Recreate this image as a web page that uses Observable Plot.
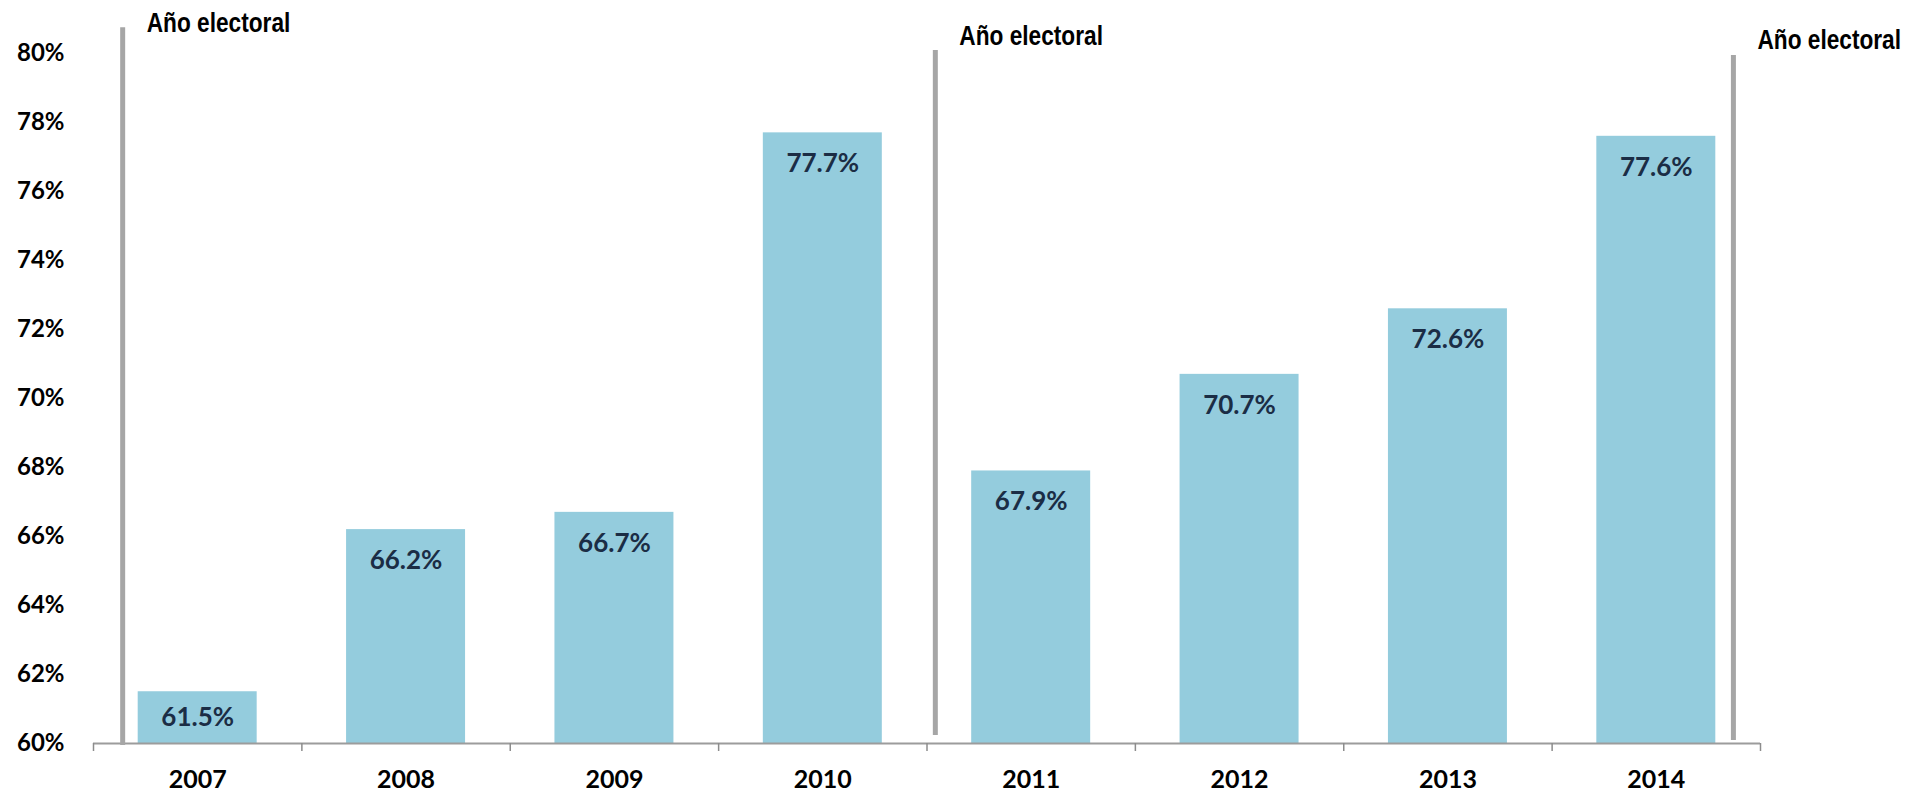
<!DOCTYPE html>
<html>
<head>
<meta charset="utf-8">
<script src="https://cdn.jsdelivr.net/npm/d3@7"></script>
<script src="https://cdn.jsdelivr.net/npm/@observablehq/plot@0.6"></script>
<style>
  html, body { margin: 0; padding: 0; background: #fff; }
  #chart svg { display: block; }
</style>
</head>
<body>
<div id="chart"></div>
<script>
// ---- data ----
const years = [2007, 2008, 2009, 2010, 2011, 2012, 2013, 2014];
const values = [61.5, 66.2, 66.7, 77.7, 67.9, 70.7, 72.6, 77.6];
const yTicks = [60, 62, 64, 66, 68, 70, 72, 74, 76, 78, 80];
const electionLabel = "Año electoral";
const electionX = [2006.64, 2010.54, 2014.37];
const electionTop = [80.75, 80.09, 79.94];
const electionBottom = [59.94, 60.23, 60.09];
const electionLabelY = [80.88, 80.5, 80.39];

// ---- derived tables ----
const baseline = 60;
const bars = years.map((year, i) => ({year, value: values[i]}));
const elections = electionX.map((x, i) => ({x, y1: electionBottom[i], y2: electionTop[i], ly: electionLabelY[i]}));
const halfBar = 0.2855;
const labelInset = 0.9; // in data units below the bar top (inside-end label)
const labelY = d => Math.max(d.value - labelInset, (d.value + baseline) / 2);
const boundaries = d3.range(years.length + 1).map(i => years[0] - 0.5 + i);

const chart = Plot.plot({
  width: 1926,
  height: 794,
  marginLeft: 93,
  marginRight: 166,
  marginTop: 53,
  marginBottom: 51,
  style: {fontFamily: "Lato, 'Open Sans', sans-serif", background: "#fff", color: "#000"},
  x: {domain: [years[0] - 0.5, years[years.length - 1] + 0.5]},
  y: {domain: [baseline, 80]},
  marks: [
    Plot.rectY(bars, {x1: d => d.year - halfBar, x2: d => d.year + halfBar, y1: baseline, y2: "value", fill: "#94ccdd"}),
    Plot.ruleY([baseline], {stroke: "#9c9c9c", strokeWidth: 2}),
    Plot.axisX({ticks: boundaries, tickSize: 8, tickFormat: () => "", stroke: "#8c8c8c", strokeWidth: 1.5, label: null}),
    Plot.axisX({ticks: years, tickSize: 0, tickPadding: 27, tickFormat: d => String(d), fontSize: 25, fontWeight: "bold", fill: "#000", label: null}),
    Plot.axisY({ticks: yTicks, tickSize: 0, tickPadding: 29, tickFormat: d => d + "%", fontSize: 24, fontWeight: "bold", fill: "#000", label: null}),
    Plot.text(bars, {x: "year", y: labelY, text: d => d.value.toFixed(1) + "%", fontSize: 26, fontWeight: "bold", fill: "#1b2d45"}),
    Plot.ruleX(elections, {x: "x", y1: "y1", y2: "y2", stroke: "#a6a6a6", strokeWidth: 5}),
    Plot.text(elections, {x: "x", y: "ly", text: () => electionLabel, textAnchor: "start", dx: 24, fontFamily: "'Liberation Sans', Arial, sans-serif", fontWeight: "bold", fontSize: 27, fill: "#000"})
  ]
});
// narrow the "Año electoral" labels (Arial Narrow look) by a horizontal squeeze
const textGroups = chart.querySelectorAll('g[aria-label="text"]');
const elecGroup = textGroups[textGroups.length - 1];
const squeeze = 0.84;
elecGroup.querySelectorAll("text").forEach(t => {
  const x = +(t.getAttribute("x") || 0);
  const prev = t.getAttribute("transform") || "";
  t.setAttribute("transform", `${prev} translate(${x},0) scale(${squeeze},1) translate(${-x},0)`.trim());
});
document.getElementById("chart").appendChild(chart);
</script>
</body>
</html>
